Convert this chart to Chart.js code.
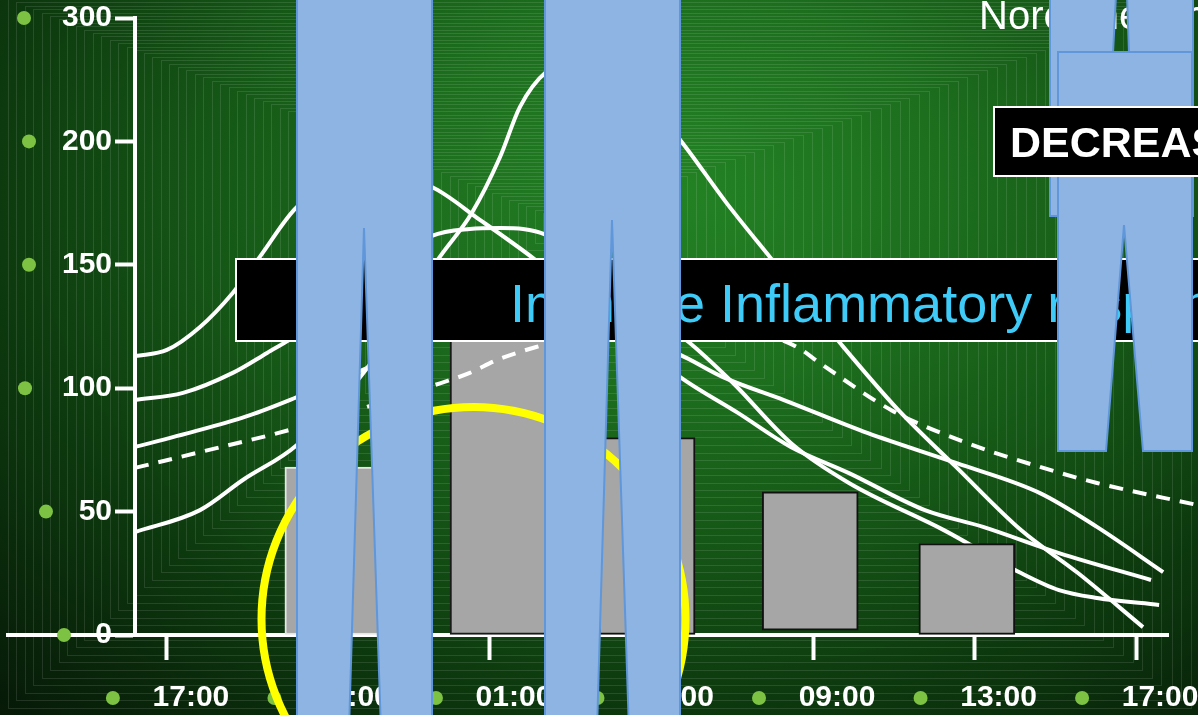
<!DOCTYPE html>
<html>
<head>
<meta charset="utf-8">
<script src="https://cdn.jsdelivr.net/npm/chart.js@4.4.1/dist/chart.umd.min.js"></script>
<style>
  html, body { margin: 0; padding: 0; background: #0b2a0b; overflow: hidden; }
  canvas { display: block; }
</style>
</head>
<body>
<canvas id="chart" width="1198" height="715"></canvas>
<script>
// ---- data ---------------------------------------------------------------
// x values are hours after 17:00 on day one; y values on the left scale
const timeLabels = ['17:00', '21:00', '01:00', '05:00', '09:00', '13:00', '17:00'];
const tickHours = [0, 4, 8, 12, 16, 20, 24];
const yTickValues = [0, 50, 100, 150, 200, 250];
const yTickLabels = ['0', '50', '100', '150', '200', '300'];

const barHours = [4.11, 8.20, 11.89, 15.93, 19.81];
const barRanges = [[0, 68], [0, 125], [0, 80], [2, 58], [0, 37]];

const curveA = [[-0.79, 113], [0, 115.5], [0.82, 124.8], [1.63, 138.6], [2.30, 153.2], [3.22, 173.4],
  [4.9, 188], [6.56, 181.5], [7.75, 168.2], [9.06, 152.8], [12.71, 104.5], [14.14, 90.0],
  [15.45, 76.2], [16.89, 65.6], [18.77, 50.6], [20.21, 43.8], [22.09, 33.2], [24.37, 22.3]];
const curveB = [[-0.79, 95.2], [0.40, 98.1], [1.63, 106.2], [2.48, 114.3], [3.22, 121.6], [4.9, 143.8],
  [6.56, 161.7], [7.50, 164.5], [8.25, 164.9], [9.39, 162.1], [11.2, 140], [12.95, 118.3],
  [14.02, 102.1], [15.45, 77.8], [16.89, 61.6], [19.24, 42.5], [21.15, 25.1], [22.09, 18.2],
  [23.03, 15.0], [24.57, 12.2]];
const curveC = [[-0.79, 76.2], [0.82, 83.1], [2.06, 89.1], [3.22, 96.4], [4.95, 108.2], [6.56, 121.2],
  [8.74, 125.6], [10.97, 123.6], [12.71, 113.5], [13.77, 104.5], [15.28, 95.2], [17.36, 81.8],
  [19.54, 69.7], [21.62, 57.5], [23.03, 43.8], [24.67, 25.5]];
const curveD = [[-0.79, 41.7], [0.82, 50.6], [1.88, 62.8], [3.22, 77.0], [4.95, 108], [6.74, 152.8],
  [7.55, 171.0], [8.25, 193.7], [8.74, 213.9], [9.39, 228.1], [10.85, 236], [12.71, 200.6],
  [13.87, 174.8], [14.93, 153.2], [16.67, 118.3], [18.11, 91.2], [19.54, 68.1], [21.15, 42.5],
  [22.56, 25.1], [24.17, 3.2]];
const curveDashed = [[-0.79, 67.7], [0.82, 74.1], [3.22, 83.9], [6.56, 100.9], [7.50, 106.2],
  [8.17, 111.4], [9.06, 116.3], [11.2, 125], [13.2, 127], [14.69, 122.4], [15.60, 116.7],
  [16.17, 110.2], [17.93, 91.2], [19.81, 77.8], [21.62, 68.1], [23.03, 61.6], [25.51, 52.7]];

// ---- styling ------------------------------------------------------------
const FONT = "'Liberation Sans', Arial, sans-serif";
const WHITE = '#ffffff';
const BULLET = '#7dc242';
const barEdges = ['#e6e6e6', '#1a1a1a', '#111111', '#111111', '#111111'];
const yBulletX = [64, 46, 25, 29, 29, 24];

const toXY = pts => pts.map(([x, y]) => ({ x, y }));
const solidLine = data => ({
  type: 'line', data: toXY(data), borderColor: WHITE, borderWidth: 4,
  pointRadius: 0, fill: false, cubicInterpolationMode: 'monotone', order: 3
});

// slide backdrop: green glow with fine rectangular banding
const backdrop = {
  id: 'backdrop',
  beforeDraw(chart) {
    const { ctx, width, height } = chart;
    ctx.save();
    ctx.scale(1.35, 1);
    const cx = 680 / 1.35, cy = 190;
    const g = ctx.createRadialGradient(cx, cy, 0, cx, cy, 780);
    g.addColorStop(0, '#238224');
    g.addColorStop(0.25, '#1d6f1e');
    g.addColorStop(0.45, '#155716');
    g.addColorStop(0.65, '#0d3a0e');
    g.addColorStop(0.85, '#082209');
    g.addColorStop(1, '#051306');
    ctx.fillStyle = g;
    ctx.fillRect(0, 0, width / 1.35 + 2, height);
    ctx.restore();

    ctx.save();
    ctx.strokeStyle = 'rgba(255,255,255,0.11)';
    ctx.lineWidth = 1;
    for (let k = 1; k <= 90; k++) {
      const l = 560 - k * 8.5, r = 560 + k * 9.7, t = 220 - k * 3.4, b = 220 + k * 7.5;
      ctx.strokeRect(Math.round(l) + 0.5, Math.round(t) + 0.5, Math.round(r - l), Math.round(b - t));
    }
    ctx.restore();
  }
};

// slide furniture drawn over the plot
const slideLayer = {
  id: 'slideLayer',
  afterDraw(chart) {
    const { ctx, chartArea } = chart;
    const xs = chart.scales.x, ys = chart.scales.y;
    ctx.save();

    // x axis line continues left past the value axis
    ctx.strokeStyle = WHITE;
    ctx.lineWidth = 4;
    ctx.beginPath();
    ctx.moveTo(6, xs.top);
    ctx.lineTo(chartArea.left, xs.top);
    ctx.stroke();

    // bullets in front of the tick labels
    ctx.fillStyle = BULLET;
    tickHours.forEach(h => {
      ctx.beginPath();
      ctx.arc(xs.getPixelForValue(h) - 54, 698, 7, 0, Math.PI * 2);
      ctx.fill();
    });
    yTickValues.forEach((v, i) => {
      ctx.beginPath();
      ctx.arc(yBulletX[i], ys.getPixelForValue(v), 7, 0, Math.PI * 2);
      ctx.fill();
    });

    // heading
    ctx.fillStyle = WHITE;
    ctx.font = '40px ' + FONT;
    ctx.textBaseline = 'alphabetic';
    ctx.fillText('Norepinephrine', 979, 29);

    // response banner
    ctx.fillStyle = '#000';
    ctx.fillRect(236, 259, 990, 82);
    ctx.strokeStyle = WHITE;
    ctx.lineWidth = 2;
    ctx.strokeRect(236, 259, 990, 82);
    ctx.fillStyle = '#3fcbf7';
    ctx.font = '54px ' + FONT;
    ctx.fillText('Immune Inflammatory response', 510, 322);

    // highlight ring
    ctx.strokeStyle = '#ffff00';
    ctx.lineWidth = 8;
    ctx.beginPath();
    ctx.arc(473.5, 619, 212, 0, Math.PI * 2);
    ctx.stroke();

    // trouser cut-outs
    const legShapes = [
      [[297, -5], [432, -5], [432, 730], [381, 730], [364, 228], [349, 730], [297, 730]],
      [[545, -5], [680, -5], [680, 730], [629, 730], [612, 220], [597, 730], [545, 730]],
      [[1050, -5], [1116, -5], [1113, 53], [1129, 53], [1127, -5], [1193, -5], [1193, 216], [1050, 216]],
      [[1058, 52], [1192, 52], [1192, 451], [1143, 451], [1124, 225], [1106, 451], [1058, 451]]
    ];
    ctx.fillStyle = '#8eb4e3';
    ctx.strokeStyle = '#5f97da';
    ctx.lineWidth = 2;
    legShapes.forEach(shape => {
      ctx.beginPath();
      shape.forEach(([x, y], i) => (i ? ctx.lineTo(x, y) : ctx.moveTo(x, y)));
      ctx.closePath();
      ctx.fill();
      ctx.stroke();
    });

    // trend banner
    ctx.fillStyle = '#000';
    ctx.fillRect(994, 107, 230, 69);
    ctx.strokeStyle = WHITE;
    ctx.lineWidth = 2;
    ctx.strokeRect(994, 107, 230, 69);
    ctx.fillStyle = WHITE;
    ctx.font = 'bold 43px ' + FONT;
    ctx.fillText('DECREASE', 1010, 157);

    ctx.restore();
  }
};

new Chart(document.getElementById('chart'), {
  data: {
    datasets: [
      solidLine(curveA),
      solidLine(curveB),
      solidLine(curveC),
      solidLine(curveD),
      {
        type: 'bar',
        data: barHours.map((h, i) => ({ x: h, y: barRanges[i] })),
        backgroundColor: '#a6a6a6',
        borderColor: barEdges,
        borderWidth: 2,
        borderSkipped: false,
        barThickness: 96,
        order: 2
      },
      {
        ...solidLine(curveDashed),
        borderDash: [14, 10],
        clip: false,
        order: 1
      }
    ]
  },
  options: {
    responsive: false,
    animation: false,
    devicePixelRatio: 1,
    layout: { padding: { top: 18, right: 30, left: 0, bottom: 0 } },
    plugins: { legend: { display: false }, tooltip: { enabled: false } },
    scales: {
      x: {
        type: 'linear',
        position: 'bottom',
        offset: false,
        min: -0.79,
        max: 24.79,
        afterBuildTicks: s => { s.ticks = tickHours.map(v => ({ value: v })); },
        afterFit: s => { s.height = 80; s.paddingLeft = 0; s.paddingRight = 0; },
        grid: { offset: false, drawOnChartArea: false, drawTicks: true, tickLength: 25, tickWidth: 4, tickColor: WHITE },
        border: { display: true, color: WHITE, width: 4 },
        ticks: {
          color: WHITE,
          font: { family: FONT, size: 30, weight: 'bold' },
          padding: 20,
          labelOffset: 24,
          autoSkip: false,
          maxRotation: 0,
          minRotation: 0,
          callback: (v, i) => timeLabels[i]
        }
      },
      y: {
        type: 'linear',
        position: 'left',
        min: 0,
        max: 250,
        afterBuildTicks: s => { s.ticks = yTickValues.map(v => ({ value: v })); },
        afterFit: s => { s.width = 135; s.paddingTop = 0; s.paddingBottom = 0; },
        grid: { drawOnChartArea: false, drawTicks: true, tickLength: 20, tickWidth: 4, tickColor: WHITE },
        border: { display: true, color: WHITE, width: 4 },
        ticks: {
          color: WHITE,
          font: { family: FONT, size: 30, weight: 'bold' },
          padding: 3,
          callback: (v, i) => yTickLabels[i]
        }
      }
    }
  },
  plugins: [backdrop, slideLayer]
});
</script>
</body>
</html>
